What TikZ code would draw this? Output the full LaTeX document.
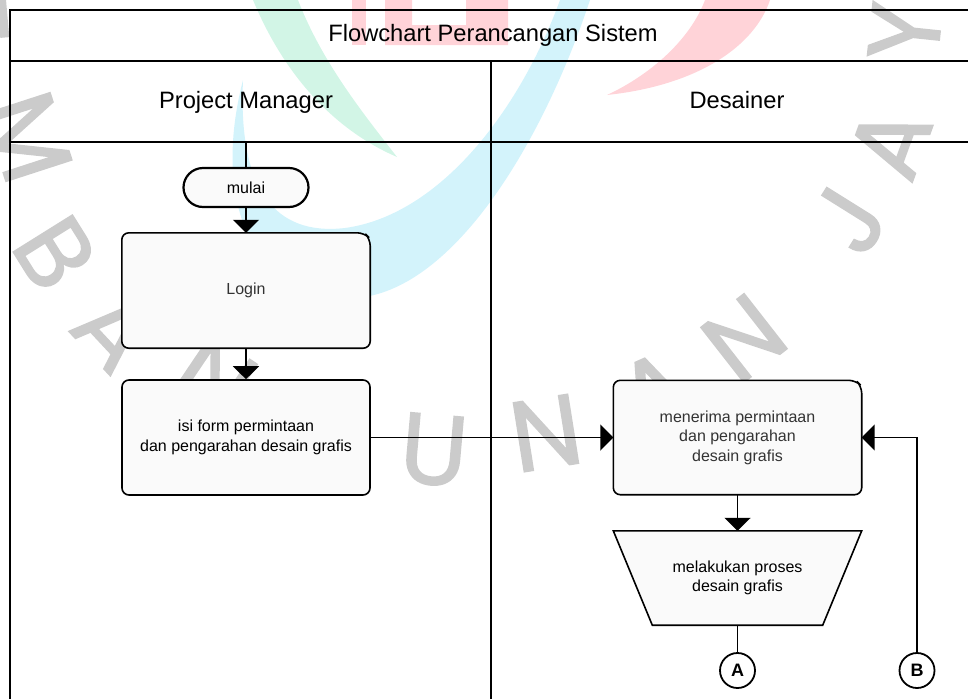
\documentclass[tikz,border=0pt]{standalone}
\usepackage{fontspec}
\setmainfont{Liberation Sans}
\newfontfamily\wmfont[FakeBold=1.5]{Poppins}
\usetikzlibrary{arrows.meta}

\pgfdeclarelayer{watermark}
\pgfdeclarelayer{shapes}
\pgfsetlayers{watermark,shapes,main}

\definecolor{boxfill}{HTML}{FAFAFA}
\definecolor{softtext}{HTML}{333333}
\definecolor{wmgray}{HTML}{CBCBCB}
\definecolor{logogreen}{HTML}{D2F5E6}
\definecolor{logocyan}{HTML}{D3F3FB}
\definecolor{logored}{HTML}{FFD3D8}

\begin{document}
\begin{tikzpicture}[x=1pt, y=-1pt,
  laneline/.style={line width=2.4pt},
  flowline/.style={line width=1.8pt},
  tipflow/.style={flowline, -{Triangle[length=13pt,width=26pt]}},
  boxline/.style={draw=black, line width=1.6pt, fill=boxfill},
  boxtext/.style={inner sep=0pt, align=center, font=\fontsize{16}{19.5}\selectfont},
  headtext/.style={anchor=base, inner sep=0pt, font=\fontsize{23.7}{28}\selectfont},
  wm/.style={text=wmgray, inner sep=0pt, font=\wmfont\fontsize{100}{100}\selectfont},
  connector/.style={circle, draw, line width=1.8pt, fill=white, minimum size=35pt,
    inner sep=0pt, font=\fontsize{18}{18}\selectfont\bfseries}
]
\useasboundingbox (0,0) rectangle (968,699);

% faint background logo and lettering
\begin{pgfonlayer}{watermark}
  \fill[logogreen] (253,0) .. controls (282,70) and (330,128) .. (397,157)
    .. controls (362,112) and (322,62) .. (298,0) -- cycle;
  \fill[logocyan] (243,80) .. controls (212,200) and (250,300) .. (355,298)
    .. controls (450,292) and (540,150) .. (590,0) -- (560,0)
    .. controls (520,110) and (440,215) .. (345,228)
    .. controls (275,236) and (238,190) .. (243,80) -- cycle;
  \fill[logored] (352,0) rectangle (366,45);
  \fill[logored] (385,0) -- (385,45) -- (508,45) -- (508,0) -- (466,0)
    -- (466,25) -- (412,25) -- (412,0) -- cycle;
  \fill[logored] (607,95) .. controls (700,85) and (755,45) .. (770,0)
    -- (705,0) .. controls (690,40) and (650,75) .. (607,95) -- cycle;
  \foreach \ch/\px/\py/\rot in {E/-28/20/-85, M/28/137/-72, B/55/253/-58,
      A/115/330/-47, N/215/378/-34, U/434/450/-5,
      N/546/433/9, A/654/392/24, N/744/338/38, J/848/220/58,
      A/890/142/70, Y/905/32/84}
    \node[wm, rotate=\rot] at (\px,\py) {\ch};
\end{pgfonlayer}

% swimlane frame
\draw[laneline] (10,699) -- (10,10) -- (968,10);
\draw[laneline] (10,61) -- (968,61);
\draw[laneline] (10,142) -- (968,142);
\draw[laneline] (491,61) -- (491,699);

\node[headtext] (title) at (493,41) {Flowchart Perancangan Sistem};
\node[headtext] (pm) at (246,108) {Project Manager};
\node[headtext] (ds) at (737,108) {Desainer};

% flow nodes
\node[boxtext, draw, line width=2.2pt, fill=boxfill, rounded corners=19.5pt,
  minimum width=125pt, minimum height=39pt] (mulai) at (246,187.5) {mulai};
\node[boxtext, text=softtext, minimum width=248pt, minimum height=115pt]
  (login) at (246,290.5) {Login};
\node[boxtext, boxline, rounded corners=7pt, minimum width=248pt,
  minimum height=115pt] (isi) at (246,437.5)
  {isi form permintaan\\dan pengarahan desain grafis};
\node[boxtext, text=softtext, minimum width=248pt, minimum height=114pt]
  (terima) at (737.5,437.5) {menerima permintaan\\dan pengarahan\\desain grafis};
\node[boxtext, minimum width=248pt, minimum height=94pt]
  (proses) at (737.5,578) {melakukan proses\\desain grafis};
\node[connector] (A) at (737.5,670.5) {A};
\node[connector] (B) at (917,670.5) {B};

% box outlines (bevelled top-right corner on the process boxes)
\begin{pgfonlayer}{shapes}
  \foreach \n in {login,terima}
    \draw[boxline, rounded corners=7pt] (\n.west) -- (\n.north west)
      -- ([xshift=-6pt]\n.north east) -- ([yshift=-6pt]\n.north east)
      -- (\n.south east) -- (\n.south west) -- cycle;
  \draw[boxline, line join=miter] (proses.north west) -- (proses.north east)
    -- ([xshift=-39pt]proses.south east) -- ([xshift=39pt]proses.south west) -- cycle;
\end{pgfonlayer}

% connectors
\coordinate (pmstart) at (246,142);
\draw[flowline] (pmstart) -- (mulai.north);
\draw[tipflow] (mulai.south) -- (login.north);
\draw[tipflow] (login.south) -- (isi.north);
\draw[tipflow] (isi.east) -- (terima.west);
\draw[tipflow] (terima.south) -- (proses.north);
\draw[flowline] (proses.south) -- (A.north);
\draw[tipflow] (B.north) |- (terima.east);
\end{tikzpicture}
\end{document}
